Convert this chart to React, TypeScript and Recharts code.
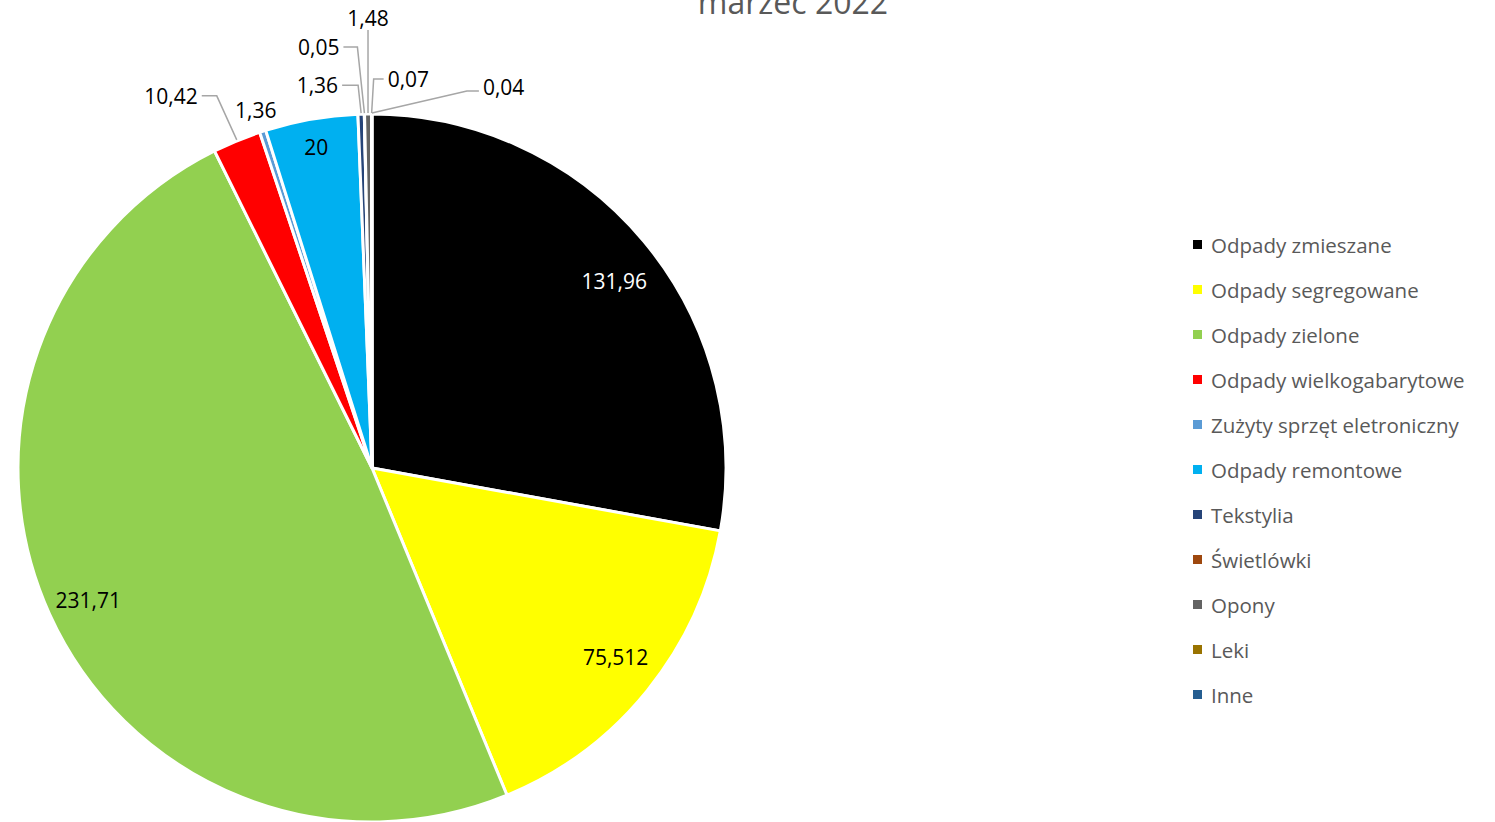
import { PieChart, Pie, Cell, Legend } from "recharts";

const categories = [
  "Odpady zmieszane",
  "Odpady segregowane",
  "Odpady zielone",
  "Odpady wielkogabarytowe",
  "Zużyty sprzęt eletroniczny",
  "Odpady remontowe",
  "Tekstylia",
  "Świetlówki",
  "Opony",
  "Leki",
  "Inne",
];
const values = [131.96, 75.512, 231.71, 10.42, 1.36, 20, 1.36, 0.05, 1.48, 0.07, 0.04];
const COLORS = [
  "#000000", "#FFFF00", "#92D050", "#FF0000", "#5B9BD5", "#00B0F0",
  "#264478", "#9E480E", "#636363", "#997300", "#255E91",
];

const chartData = categories.map((name, i) => ({ name, value: values[i] }));

// label placement per slice: inside at a radius fraction, or outside with offsets from the slice edge
type LabelPos =
  | { kind: "in"; r: number; dx: number; dy: number }
  | { kind: "out"; dx: number; dy: number; ex?: number; ey?: number; anchor: "start" | "middle" | "end"; line: boolean };

const LABEL_POS: LabelPos[] = [
  { kind: "in", r: 0.87, dx: 6, dy: 10 },
  { kind: "in", r: 0.87, dx: 4, dy: -4 },
  { kind: "in", r: 0.88, dx: 0, dy: 3 },
  { kind: "out", dx: -39, dy: -45, ex: -20, ey: -45, anchor: "end", line: true },
  { kind: "out", dx: -7, dy: -21, anchor: "middle", line: false },
  { kind: "in", r: 0.92, dx: 0, dy: 0 },
  { kind: "out", dx: -23, dy: -29, ex: -3, ey: -29, anchor: "end", line: true },
  { kind: "out", dx: -25, dy: -67, ex: -7, ey: -67, anchor: "end", line: true },
  { kind: "out", dx: 0, dy: -96, ex: 0, ey: -84, anchor: "middle", line: true },
  { kind: "out", dx: 16, dy: -35, ex: 2, ey: -35, anchor: "start", line: true },
  { kind: "out", dx: 111, dy: -27, ex: 95, ey: -23, anchor: "start", line: true },
];

const RAD = Math.PI / 180;
const FONT = "'Open Sans', sans-serif";

const fmt = (v: number) => String(v).replace(".", ",");

const renderLabel = (props: any) => {
  const { cx, cy, midAngle, outerRadius, index, value } = props;
  const pos = LABEL_POS[index];
  const cos = Math.cos(-midAngle * RAD);
  const sin = Math.sin(-midAngle * RAD);
  if (pos.kind === "in") {
    const r = outerRadius * pos.r;
    return (
      <text
        x={cx + r * cos + pos.dx}
        y={cy + r * sin + pos.dy}
        textAnchor="middle"
        dominantBaseline="central"
        fontSize={21}
        fontFamily={FONT}
        fill={index === 0 ? "#FFFFFF" : "#000000"}
      >
        {fmt(value)}
      </text>
    );
  }
  const px = cx + outerRadius * cos;
  const py = cy + outerRadius * sin;
  const tx = px + pos.dx;
  const ty = py + pos.dy;
  const elbowY = py + (pos.ey ?? 0);
  return (
    <g>
      {pos.line && (
        <polyline
          points={`${px},${py - 1} ${px + (pos.ex ?? 0)},${elbowY} ${tx + (pos.anchor === "end" ? 4 : pos.anchor === "start" ? -4 : 0)},${pos.anchor === "middle" ? elbowY : elbowY}`}
          fill="none"
          stroke="#A6A6A6"
          strokeWidth={1.5}
        />
      )}
      <text
        x={tx}
        y={ty}
        textAnchor={pos.anchor}
        dominantBaseline="central"
        fontSize={21}
        fontFamily={FONT}
        fill="#000000"
      >
        {fmt(value)}
      </text>
    </g>
  );
};

const renderLegend = (props: any) => {
  const { payload } = props;
  return (
    <div style={{ fontFamily: FONT, fontSize: 20.5, color: "#595959" }}>
      {payload.map((entry: any) => (
        <div key={entry.value} style={{ display: "flex", alignItems: "center", height: 45 }}>
          <span
            style={{ width: 9, height: 9, background: entry.color, display: "inline-block", marginRight: 9 }}
          />
          <span>{entry.value}</span>
        </div>
      ))}
    </div>
  );
};

export default function App() {
  return (
    <div style={{ position: "absolute", left: 0, top: 0, width: 1495, height: 822, background: "#fff", overflow: "hidden" }}>
      <div
        style={{
          position: "absolute",
          left: 0,
          width: 1586,
          top: -20,
          textAlign: "center",
          fontFamily: FONT,
          fontSize: 32,
          color: "#595959",
        }}
      >
        marzec 2022
      </div>
      <PieChart width={1495} height={822} margin={{ top: 0, right: 0, bottom: 0, left: 0 }}>
        <Pie
          data={chartData}
          dataKey="value"
          nameKey="name"
          cx={372}
          cy={468}
          outerRadius={354}
          startAngle={90}
          endAngle={-270}
          stroke="#FFFFFF"
          strokeWidth={3}
          labelLine={false}
          label={renderLabel}
          isAnimationActive={false}
        >
          {chartData.map((entry, i) => (
            <Cell key={entry.name} fill={COLORS[i]} />
          ))}
        </Pie>
        <Legend
          layout="vertical"
          itemSorter={null}
          content={renderLegend}
          wrapperStyle={{ left: 1193, top: 222, width: 300 }}
        />
      </PieChart>
    </div>
  );
}
